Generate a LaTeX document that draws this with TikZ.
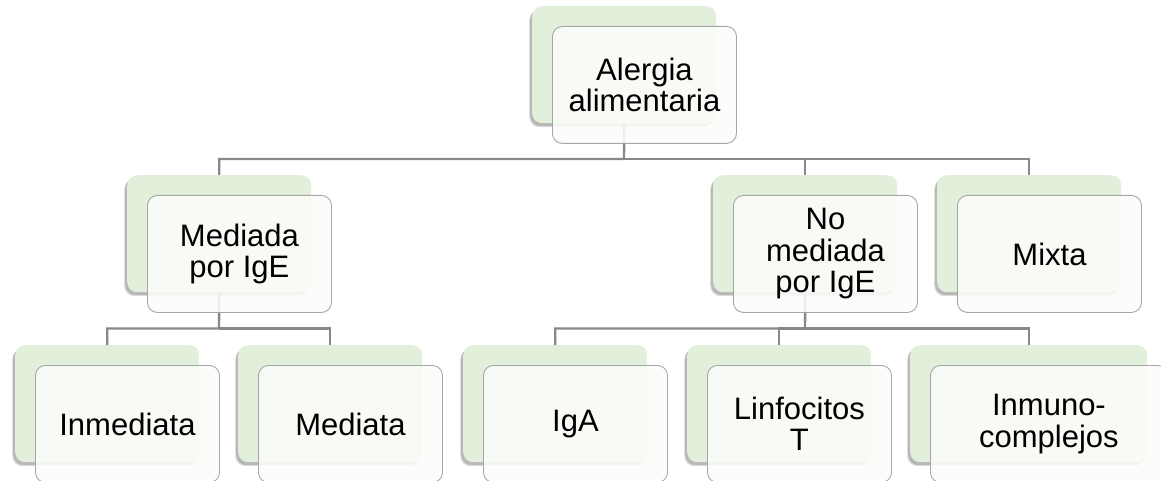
\documentclass[tikz,border=0pt]{standalone}
\usepackage{fontspec}
\setmainfont{Liberation Sans}
\usetikzlibrary{shadows}
\definecolor{gbox}{RGB}{226,239,218}
\definecolor{wborder}{RGB}{166,166,166}
\definecolor{wfill}{RGB}{252,252,251}
\definecolor{conncol}{RGB}{136,136,136}
\tikzset{
  gbox/.style={draw=none, fill=gbox, rounded corners=10pt, minimum width=184pt, minimum height=117pt,
    anchor=north west, inner sep=0pt,
    general shadow={shadow xshift=-3pt, shadow yshift=-4pt, opacity=0.12, fill=black},
    general shadow={shadow xshift=-2pt, shadow yshift=-3pt, opacity=0.18, fill=black}},
  wbox/.style={draw=wborder, line width=0.9pt, fill=wfill, fill opacity=0.88, text opacity=1,
    rounded corners=10pt, minimum width=184pt, minimum height=117pt, anchor=north west,
    inner sep=2pt, align=center, font=\fontsize{31}{31.5}\selectfont},
  conn/.style={draw=conncol, line width=2.4pt}
}
\begin{document}
\begin{tikzpicture}[x=1pt,y=-1pt]
\useasboundingbox (0,0) rectangle (1161,481);
% back (green) boxes
\node[gbox] (A) at (532,6) {};
\node[gbox] (M) at (127,175) {};
\node[gbox] (N) at (713,175) {};
\node[gbox] (X) at (937,175) {};
\node[gbox] (I) at (15,345) {};
\node[gbox] (D) at (238,345) {};
\node[gbox] (G) at (463,345) {};
\node[gbox] (L) at (687,345) {};
\node[gbox, minimum width=237pt] (C) at (910,345) {};
% connectors
\coordinate (j1) at (624,159);
\coordinate (j2) at (219,328.5);
\coordinate (j3) at (805,328.5);
\draw[conn] (A.south) -- (j1) -| (M.north);
\draw[conn] (j1) -| (N.north);
\draw[conn] (j1) -| (X.north);
\draw[conn] (M.south) -- (j2) -| (I.north);
\draw[conn] (j2) -| (D.north);
\draw[conn] (N.south) -- (j3) -| (G.north);
\draw[conn] (j3) -| (L.north);
\draw[conn] (j3) -| (C.north);
% front (white) boxes
\node[wbox] (Aw) at ([shift={(20,20)}]A.north west) {Alergia\\alimentaria};
\node[wbox] (Mw) at ([shift={(20,20)}]M.north west) {Mediada\\por IgE};
\node[wbox] (Nw) at ([shift={(20,20)}]N.north west) {No\\mediada\\por IgE};
\node[wbox] (Xw) at ([shift={(20,20)}]X.north west) {Mixta};
\node[wbox] (Iw) at ([shift={(20,20)}]I.north west) {Inmediata};
\node[wbox] (Dw) at ([shift={(20,20)}]D.north west) {Mediata};
\node[wbox] (Gw) at ([shift={(20,20)}]G.north west) {IgA};
\node[wbox] (Lw) at ([shift={(20,20)}]L.north west) {Linfocitos\\T};
\node[wbox, minimum width=237pt] (Cw) at ([shift={(20,20)}]C.north west) {Inmuno-\\complejos};
\end{tikzpicture}
\end{document}
